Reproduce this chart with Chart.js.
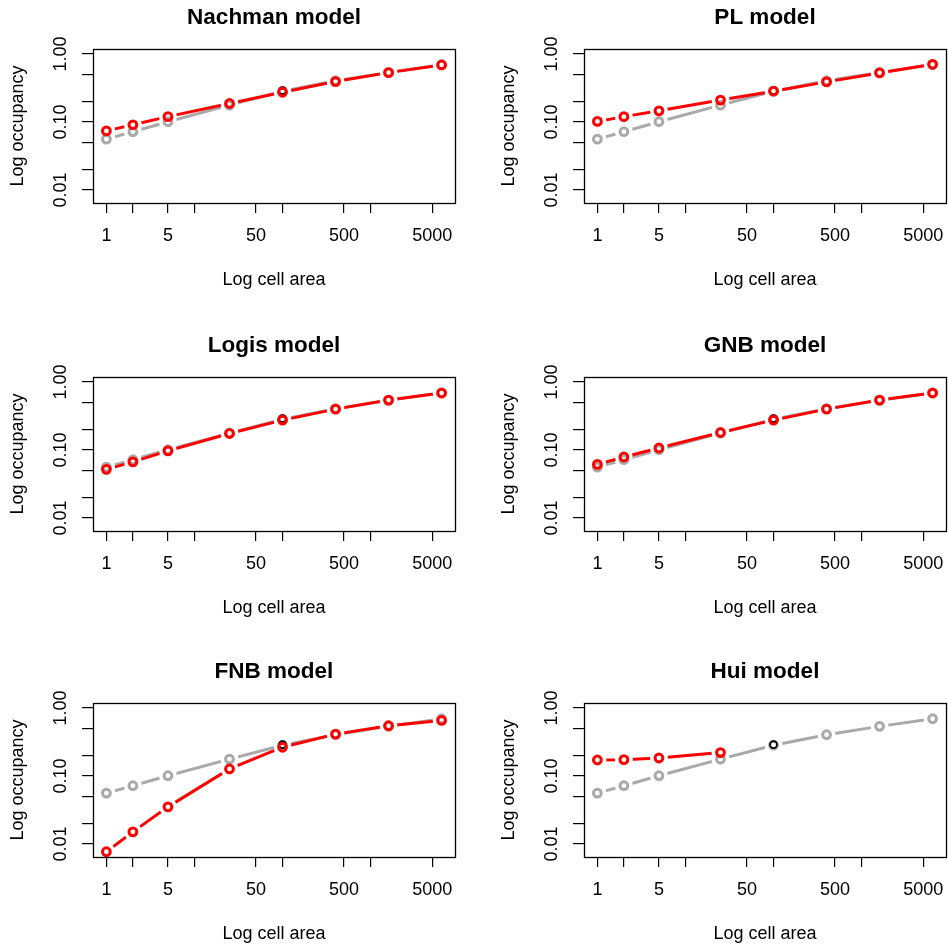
<!DOCTYPE html>
<html>
<head>
<meta charset="utf-8">
<title>Occupancy-area models</title>
<script src="https://cdn.jsdelivr.net/npm/chart.js@4.4.1/dist/chart.umd.min.js"></script>
<style>
  html, body { margin: 0; padding: 0; background: #fff; }
  #wrap { position: relative; width: 948px; height: 947px; overflow: hidden; background: #fff; }
  #wrap canvas { position: absolute; }
</style>
</head>
<body>
<div id="wrap"></div>
<script>
// Cell areas shared by every panel
var cellArea = [1, 2, 5, 25, 100, 400, 1600, 6400];

// Observed occupancy (grey) and the reference-scale point (black)
var observedOcc = [0.056, 0.072, 0.101, 0.177, 0.284, 0.405, 0.537, 0.695];
var refArea = [100];
var refOcc = [0.29];

// Predicted occupancy per model (red)
var nachmanOcc = [0.074, 0.091, 0.120, 0.187, 0.274, 0.393, 0.532, 0.690];
var plOcc = [0.102, 0.120, 0.146, 0.210, 0.284, 0.389, 0.526, 0.706];
var logisOcc = [0.052, 0.067, 0.097, 0.175, 0.275, 0.399, 0.542, 0.688];
var gnbOcc = [0.0615, 0.079, 0.107, 0.181, 0.275, 0.399, 0.542, 0.688];
var fnbOcc = [0.0077, 0.0151, 0.0352, 0.127, 0.265, 0.413, 0.548, 0.656];
var huiOcc = [0.172, 0.174, 0.184, 0.221];

var modelNames = ['Nachman model', 'PL model', 'Logis model', 'GNB model', 'FNB model', 'Hui model'];

// Axis ticks
var xTickValues = [1, 2, 5, 10, 50, 100, 500, 1000, 5000];
var xTickLabels = ['1', '', '5', '', '50', '', '500', '', '5000'];
var yTickValues = [0.01, 0.02, 0.05, 0.1, 0.2, 0.5, 1];
var yTickLabels = ['0.01', '', '', '0.10', '', '', '1.00'];
var xMin = 0.7046, xMax = 9087;
var yMin = 0.00645, yMax = 1.184;

var GRAY = '#a9a9a9';
var RED = '#ff0000';
var FONT = "'Liberation Sans', Arial, Helvetica, sans-serif";
var GAP = 9;

Chart.defaults.font.family = FONT;
Chart.defaults.color = '#000';

// panel placement (left column / right column, three rows)
var colLeft = [0, 474];
var colWidth = [474, 494];
var boxLeft = [93, 110];
var rightPad = [19, 22];
var rowTop = [0, 328, 654];

function toPoints(xs, ys) {
    return ys.map(function (y, i) { return { x: xs[i], y: y }; });
}

// lines stop short of the points, like R's type = "b"
var gapPlugin = {
    id: 'gapLines',
    beforeDatasetDraw: function (chart, args) {
        var ds = chart.data.datasets[args.index];
        if (!ds.gapLine) return;
        var ctx = chart.ctx;
        ctx.save();
        ctx.beginPath();
        ctx.rect(0, 0, chart.width, chart.height);
        args.meta.data.forEach(function (pt) {
            ctx.moveTo(pt.x + GAP, pt.y);
            ctx.arc(pt.x, pt.y, GAP, 0, Math.PI * 2);
        });
        ctx.clip('evenodd');
    },
    afterDatasetDraw: function (chart, args) {
        if (chart.data.datasets[args.index].gapLine) chart.ctx.restore();
    }
};

// frame round the plot region
var boxPlugin = {
    id: 'plotBox',
    afterDraw: function (chart) {
        var a = chart.chartArea;
        var ctx = chart.ctx;
        ctx.save();
        ctx.strokeStyle = '#000';
        ctx.lineWidth = 1.3;
        ctx.strokeRect(Math.round(a.left) + 0.5, Math.round(a.top) + 0.5,
            Math.round(a.right - a.left), Math.round(a.bottom - a.top));
        ctx.restore();
    }
};

function makeDatasets(pred) {
    var obs = toPoints(cellArea, observedOcc);
    var mod = toPoints(cellArea, pred);
    return [
        { data: obs, showLine: true, gapLine: true, borderColor: GRAY, borderWidth: 3, pointRadius: 0, order: 5 },
        { data: obs, showLine: false, pointRadius: 3.9, pointBorderWidth: 3, borderColor: GRAY,
          pointBorderColor: GRAY, pointBackgroundColor: 'rgba(0,0,0,0)', order: 4 },
        { data: toPoints(refArea, refOcc), showLine: false, pointRadius: 3.5, pointBorderWidth: 1.7,
          borderColor: '#000', pointBorderColor: '#000', pointBackgroundColor: 'rgba(0,0,0,0)', order: 3 },
        { data: mod, showLine: true, gapLine: true, borderColor: RED, borderWidth: 3, pointRadius: 0, order: 2 },
        { data: mod, showLine: false, pointRadius: 3.9, pointBorderWidth: 3, borderColor: RED,
          pointBorderColor: RED, pointBackgroundColor: 'rgba(0,0,0,0)', order: 1 }
    ];
}

function makePanel(idx, pred) {
    var col = idx % 2;
    var row = Math.floor(idx / 2);
    var canvas = document.createElement('canvas');
    canvas.width = colWidth[col];
    canvas.height = 328;
    canvas.style.left = colLeft[col] + 'px';
    canvas.style.top = rowTop[row] + 'px';
    document.getElementById('wrap').appendChild(canvas);

    new Chart(canvas.getContext('2d'), {
        type: 'scatter',
        data: { datasets: makeDatasets(pred) },
        options: {
            responsive: false,
            animation: false,
            events: [],
            devicePixelRatio: 1,
            layout: { padding: { left: 0, right: rightPad[col], top: 0, bottom: 0 } },
            plugins: {
                legend: { display: false },
                tooltip: { enabled: false },
                title: {
                    display: true,
                    text: modelNames[idx],
                    fullSize: false,
                    color: '#000',
                    font: { family: FONT, size: 22.5, weight: 'bold' },
                    padding: { top: 4, bottom: 18 }
                }
            },
            scales: {
                x: {
                    type: 'logarithmic',
                    position: 'bottom',
                    min: xMin,
                    max: xMax,
                    bounds: 'data',
                    afterBuildTicks: function (axis) {
                        axis.ticks = xTickValues.map(function (v) { return { value: v }; });
                    },
                    afterFit: function (axis) { axis.height = 125; },
                    border: { display: false },
                    grid: { drawOnChartArea: false, drawTicks: true, tickLength: 10, color: '#000', lineWidth: 1.2 },
                    ticks: {
                        autoSkip: false,
                        maxRotation: 0,
                        minRotation: 0,
                        padding: 12.2,
                        color: '#000',
                        font: { size: 18 },
                        callback: function (value, index) { return xTickLabels[index]; }
                    },
                    title: {
                        display: true,
                        text: 'Log cell area',
                        color: '#000',
                        font: { size: 18 },
                        padding: { top: 0, bottom: 37.2 }
                    }
                },
                y: {
                    type: 'logarithmic',
                    position: 'left',
                    min: yMin,
                    max: yMax,
                    bounds: 'data',
                    afterBuildTicks: function (axis) {
                        axis.ticks = yTickValues.map(function (v) { return { value: v }; });
                    },
                    afterFit: function (axis) { axis.width = boxLeft[col]; },
                    border: { display: false },
                    grid: { drawOnChartArea: false, drawTicks: true, tickLength: 11, color: '#000', lineWidth: 1.2 },
                    ticks: {
                        autoSkip: false,
                        minRotation: 90,
                        maxRotation: 90,
                        crossAlign: 'center',
                        padding: 3,
                        color: '#000',
                        font: { size: 18 },
                        callback: function (value, index) { return yTickLabels[index]; }
                    },
                    title: {
                        display: true,
                        text: 'Log occupancy',
                        color: '#000',
                        font: { size: 18 },
                        padding: { top: boxLeft[col] - 75 - 10.8, bottom: 0 }
                    }
                }
            }
        },
        plugins: [gapPlugin, boxPlugin]
    });
}

var predictions = [nachmanOcc, plOcc, logisOcc, gnbOcc, fnbOcc, huiOcc];
predictions.forEach(function (pred, i) {
    makePanel(i, pred);
});
</script>
</body>
</html>
